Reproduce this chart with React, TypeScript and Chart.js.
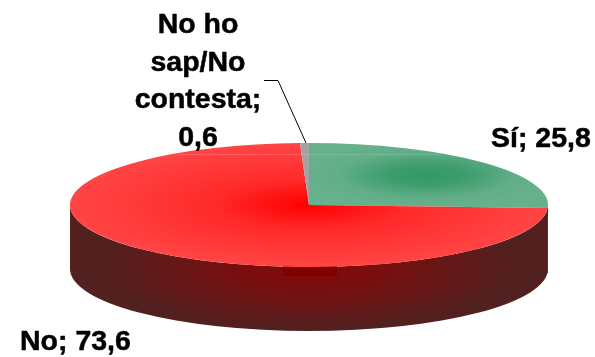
import React, { useEffect, useRef } from "react";
import { Chart, registerables } from "chart.js";

Chart.register(...registerables);

const categories = ["Sí", "No", "No ho sap/No contesta"];
const values = [25.8, 73.6, 0.6];
const noHoSapLines = ["No ho", "sap/No", "contesta;"];

const fmt = (v: number) => String(v).replace(".", ",");

const CX = 309;
const CY = 205;
const RX = 239;
const RY = 62;
const DEPTH = 64;
const SQUASH = RY / RX;
const FONT = 'bold 28.5px "Liberation Sans", Arial, sans-serif';

const pie3d = {
  id: "pie3d",
  beforeDatasetsDraw(chart: any) {
    const ctx: CanvasRenderingContext2D = chart.ctx;
    // Side wall
    ctx.save();
    ctx.beginPath();
    ctx.moveTo(CX - RX, CY);
    ctx.lineTo(CX - RX, CY + DEPTH);
    ctx.ellipse(CX, CY + DEPTH, RX, RY, 0, Math.PI, 0, true);
    ctx.lineTo(CX + RX, CY);
    ctx.ellipse(CX, CY, RX, RY, 0, 0, Math.PI, false);
    ctx.closePath();
    ctx.translate(CX, CY + 62);
    ctx.scale(1, 0.3);
    const g = ctx.createRadialGradient(0, 0, 0, 0, 0, 205);
    g.addColorStop(0, "#850707");
    g.addColorStop(0.45, "#741111");
    g.addColorStop(1, "#532020");
    ctx.fillStyle = g;
    ctx.fill();
    ctx.restore();
    // Darker band under the front edge and thin green sliver on the right
    ctx.save();
    ctx.fillStyle = "#800000";
    ctx.fillRect(CX - 26, CY + 60, 54, 11);
    ctx.fillStyle = "#1f4a33";
    ctx.fillRect(CX + RX - 1, CY + 3, 1, 65);
    ctx.restore();
    // Squash the library's arcs into the top ellipse
    const arc = chart.getDatasetMeta(0).data[0];
    ctx.save();
    ctx.translate(CX, CY);
    ctx.scale(1, SQUASH);
    ctx.translate(-arc.x, -arc.y);
  },
  afterDatasetsDraw(chart: any) {
    const ctx: CanvasRenderingContext2D = chart.ctx;
    ctx.restore();
    // Faint light seam on the top face
    ctx.save();
    ctx.strokeStyle = "rgba(255,255,255,0.14)";
    ctx.lineWidth = 1;
    ctx.beginPath();
    ctx.moveTo(178, 154.5);
    ctx.lineTo(440, 154.5);
    ctx.stroke();
    ctx.restore();
  },
  afterDraw(chart: any) {
    const ctx: CanvasRenderingContext2D = chart.ctx;
    ctx.save();
    ctx.fillStyle = "#000";
    ctx.strokeStyle = "#000";
    ctx.lineWidth = 0.5;
    ctx.lineJoin = "round";
    ctx.font = FONT;
    const text = (t: string, x: number, y: number) => {
      ctx.fillText(t, x, y);
      ctx.strokeText(t, x, y);
    };
    ctx.textAlign = "left";
    ctx.textBaseline = "alphabetic";
    text(`${categories[0]}; ${fmt(values[0])}`, 491, 147);
    text(`${categories[1]}; ${fmt(values[1])}`, 20, 350);
    ctx.textAlign = "center";
    const ys = [33, 71, 108];
    noHoSapLines.forEach((t, i) => text(t, 198, ys[i]));
    text(fmt(values[2]), 198, 146);
    // Leader line
    ctx.lineWidth = 1;
    ctx.beginPath();
    ctx.moveTo(264, 80.5);
    ctx.lineTo(278, 80.5);
    ctx.lineTo(306, 143);
    ctx.stroke();
    ctx.restore();
  },
};

export default function App() {
  const ref = useRef<HTMLCanvasElement | null>(null);
  useEffect(() => {
    const canvas = ref.current!;
    const ctx = canvas.getContext("2d")!;
    const red = ctx.createRadialGradient(CX, CY, 0, CX, CY, RX);
    red.addColorStop(0, "#ff0000");
    red.addColorStop(0.4, "#ff2a2a");
    red.addColorStop(1, "#ff4545");
    const gcx = CX + 118;
    const gcy = CY - 30 / SQUASH;
    const green = ctx.createRadialGradient(gcx, gcy, 0, gcx, gcy, 120);
    green.addColorStop(0, "#339966");
    green.addColorStop(0.3, "#3c9c6c");
    green.addColorStop(0.75, "#62ae88");
    green.addColorStop(1, "#66b08c");
    const chart = new Chart(canvas, {
      type: "pie",
      plugins: [pie3d],
      data: {
        labels: categories,
        datasets: [
          {
            data: values,
            backgroundColor: [green, red, "#a3a3a3"],
            borderWidth: 0,
            radius: RX,
            clip: false,
          } as any,
        ],
      },
      options: {
        animation: false,
        responsive: false,
        layout: { padding: { left: 23, top: 53 } },
        plugins: { legend: { display: false }, tooltip: { enabled: false } },
      },
    });
    return () => chart.destroy();
  }, []);
  return (
    <canvas
      ref={ref}
      width={595}
      height={357}
      style={{ position: "absolute", left: 0, top: 0, display: "block" }}
    />
  );
}
